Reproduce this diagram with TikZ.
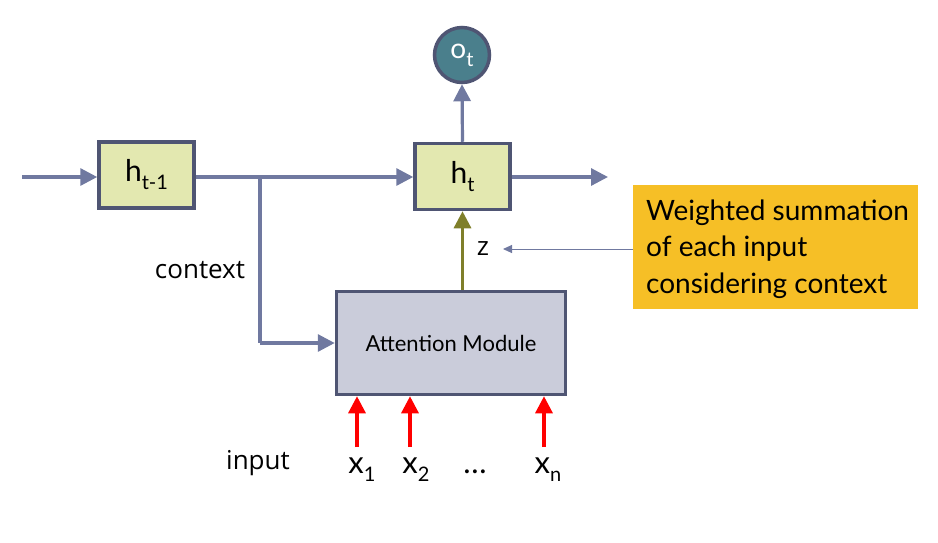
\documentclass[tikz,border=0pt]{standalone}
\usepackage{fontspec}
\setmainfont{Lato}
\newfontfamily\verd{Open Sans}
\usetikzlibrary{arrows.meta}
\definecolor{linec}{HTML}{7079A0}
\definecolor{boxb}{HTML}{4F5573}
\definecolor{hfill}{HTML}{E3E8B0}
\definecolor{afill}{HTML}{CACCDA}
\definecolor{ofill}{HTML}{4A7F8C}
\definecolor{olive}{HTML}{7F7F2A}
\definecolor{yel}{HTML}{F6BF26}
\newcommand{\mysub}[1]{\raisebox{-8pt}{\fontsize{20}{22}\selectfont #1}}
\tikzset{
  hbox/.style={draw=boxb, line width=3.5pt, fill=hfill, minimum width=95pt, minimum height=66pt, inner sep=0pt, font=\fontsize{30}{32}\selectfont},
  conn/.style={draw=linec, line width=3.2pt, -{Triangle[length=17pt,width=17pt]}},
  plain/.style={draw=linec, line width=3.2pt},
  redarr/.style={draw=red, line width=3.2pt, -{Triangle[length=17pt,width=17pt]}},
  lbl/.style={font=\verd\fontsize{26}{30}\selectfont, inner sep=0pt},
  xl/.style={font=\fontsize{31}{33}\selectfont, inner sep=0pt, anchor=base},
}
\begin{document}
\begin{tikzpicture}[x=1pt,y=-1pt]
\useasboundingbox (0,0) rectangle (938,542);
\node[hbox] (h1) at (146.5,175) {h\mysub{t-1}};
\node[hbox] (ht) at (462.5,176.5) {h\mysub{t}};
\node[circle, draw=boxb, line width=3.5pt, fill=ofill, minimum size=55pt, inner sep=0pt, text=white, font=\fontsize{28}{30}\selectfont] (o) at (462,55) {o\mysub{t}};
\node[draw=boxb, line width=3.5pt, fill=afill, minimum width=229pt, minimum height=103pt, inner sep=0pt, font=\fontsize{22}{24}\selectfont] (att) at (451,343) {Attention Module};
\node[fill=yel, minimum width=285pt, minimum height=124pt, inner sep=0pt] (yb) at (775.5,247) {};
\node[anchor=west, align=left, inner sep=0pt, font=\fontsize{28}{36.5}\selectfont] (ytext) at (646,249) {Weighted summation\\of each input\\considering context};
\coordinate (in) at (22,177);
\coordinate (br) at (260,177);
\coordinate (out) at (608,177);
\draw[conn] (in) -- (in -| h1.west);
\draw[conn] (h1.east |- br) -- (ht.west |- br);
\draw[plain] (br) -- (br |- att.west);
\draw[conn] (br |- att.west) -- (att.west);
\draw[conn] (ht.east |- out) -- (out);
\draw[conn] (ht.north) -- (o.south);
\draw[draw=olive, line width=3.2pt, -{Triangle[length=17pt,width=17pt]}] (att.north -| ht) -- (ht.south);
\node[lbl] (z) at (483,249) {z};
\draw[draw=linec, line width=1pt, -{Triangle[length=9pt,width=8pt]}] (yb.west |- z) -- (503,249);
\node[lbl] (ctx) at (200,270) {context};
\node[lbl] (inp) at (258,463) {input};
\node[xl] (x1) at (362,473) {x\mysub{1}};
\node[xl] (x2) at (416,473) {x\mysub{2}};
\node[xl] (dots) at (475,473) {\dots};
\node[xl] (xn) at (548,473) {x\mysub{n}};
\coordinate (r1) at (357,447);
\coordinate (r2) at (410,447);
\coordinate (r3) at (544,447);
\draw[redarr] (r1) -- (r1 |- att.south);
\draw[redarr] (r2) -- (r2 |- att.south);
\draw[redarr] (r3) -- (r3 |- att.south);
\end{tikzpicture}
\end{document}
